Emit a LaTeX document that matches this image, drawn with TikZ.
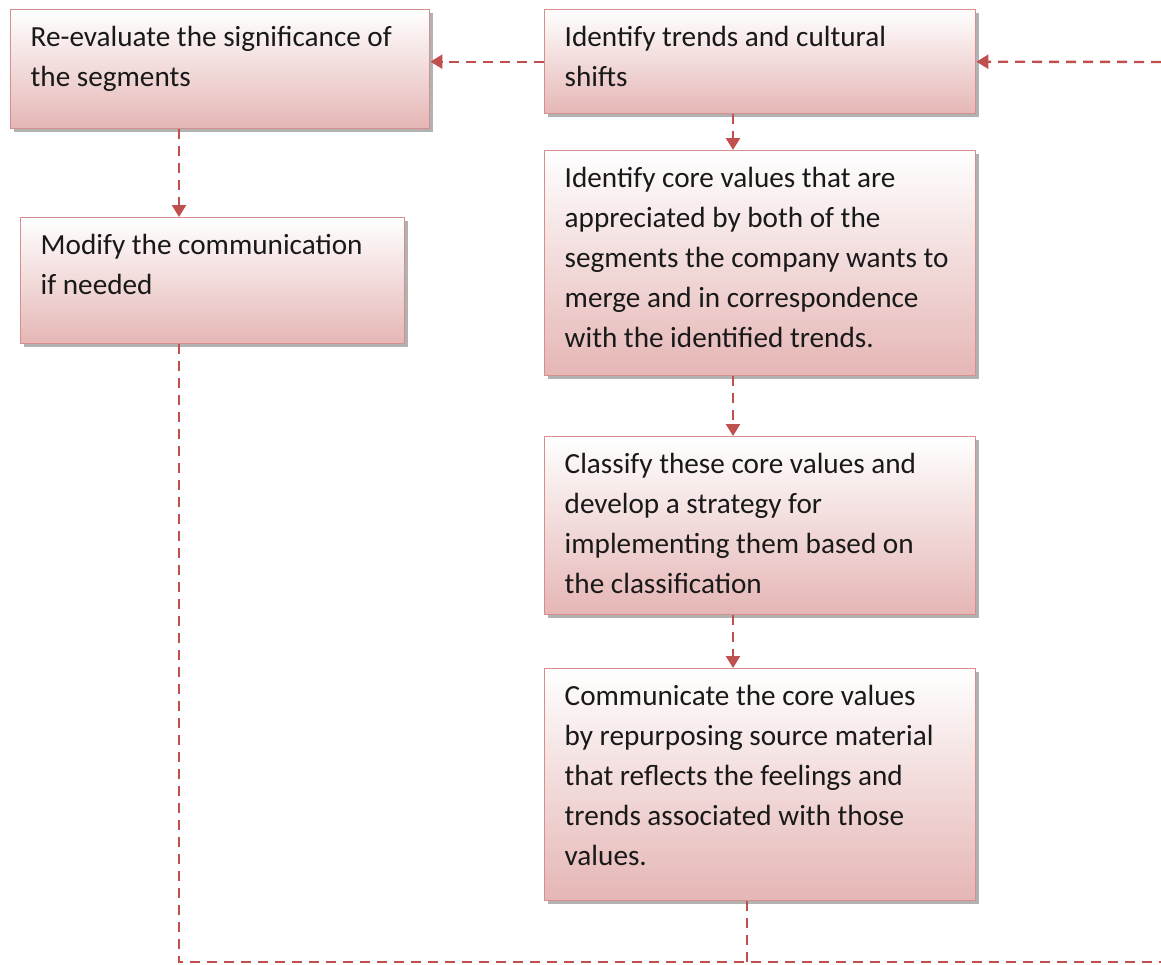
\documentclass[tikz,border=0pt]{standalone}
\usepackage{fontspec}
\setmainfont{Carlito}
\usetikzlibrary{arrows.meta,shadows,calc}
\definecolor{boxborder}{HTML}{D58F8D}
\definecolor{boxbottom}{HTML}{E5B6B5}
\definecolor{connred}{HTML}{C0504D}
\newcommand\mybox[3]{\parbox[c][#2][t]{#1}{\raggedright\leftskip=10pt\rule{0pt}{18.5pt}#3}}
\tikzset{
  stepbox/.style={draw=boxborder, line width=0.7pt, top color=white, bottom color=boxbottom,
    inner sep=0pt, anchor=north west, font=\fontsize{14.6}{20}\selectfont, text=black!90,
    drop shadow={shadow xshift=1.6pt, shadow yshift=-1.6pt, opacity=0.5, fill=black!60}},
  conn/.style={draw=connred, line width=1.2pt, dash pattern=on 5pt off 3.5pt},
  arr/.style={conn, -{Triangle[width=7pt,length=6pt]}}
}
\begin{document}
\begin{tikzpicture}[x=0.5pt,y=-0.5pt]
\useasboundingbox (0,0) rectangle (1161,964);
\node[stepbox] (reeval) at (10,9) {\mybox{209.5pt}{59.5pt}{Re-evaluate the significance of\\the segments}};
\node[stepbox] (trends) at (544,9) {\mybox{215.5pt}{52pt}{Identify trends and cultural\\shifts}};
\node[stepbox] (modify) at (20,217) {\mybox{192pt}{63pt}{Modify the communication\\if needed}};
\node[stepbox] (core) at (544,150) {\mybox{215.5pt}{112.5pt}{Identify core values that are\\appreciated by both of the\\segments the company wants to\\merge and in correspondence\\with the identified trends.}};
\node[stepbox] (classify) at (544,436) {\mybox{215.5pt}{89pt}{Classify these core values and\\develop a strategy for\\implementing them based on\\the classification}};
\node[stepbox] (comm) at (544,668) {\mybox{215.5pt}{116pt}{Communicate the core values\\by repurposing source material\\that reflects the feelings and\\trends associated with those\\values.}};
\coordinate (lx) at (179,0);
\coordinate (cx) at (733,0);
\coordinate (bx) at (747,0);
\coordinate (br) at (1161,962);
\coordinate (tr) at (1161,62);
% connectors
\draw[arr] (trends.west) -- (trends.west -| reeval.east);
\draw[arr] (tr) -- (trends.east);
\draw[arr] (reeval.south -| lx) -- (modify.north -| lx);
\draw[arr] (trends.south -| cx) -- (core.north -| cx);
\draw[arr] (core.south -| cx) -- (classify.north -| cx);
\draw[arr] (classify.south -| cx) -- (comm.north -| cx);
\draw[conn] (modify.south -| lx) |- (br);
\draw[conn] (comm.south -| bx) -- (br -| bx);
\end{tikzpicture}
\end{document}
